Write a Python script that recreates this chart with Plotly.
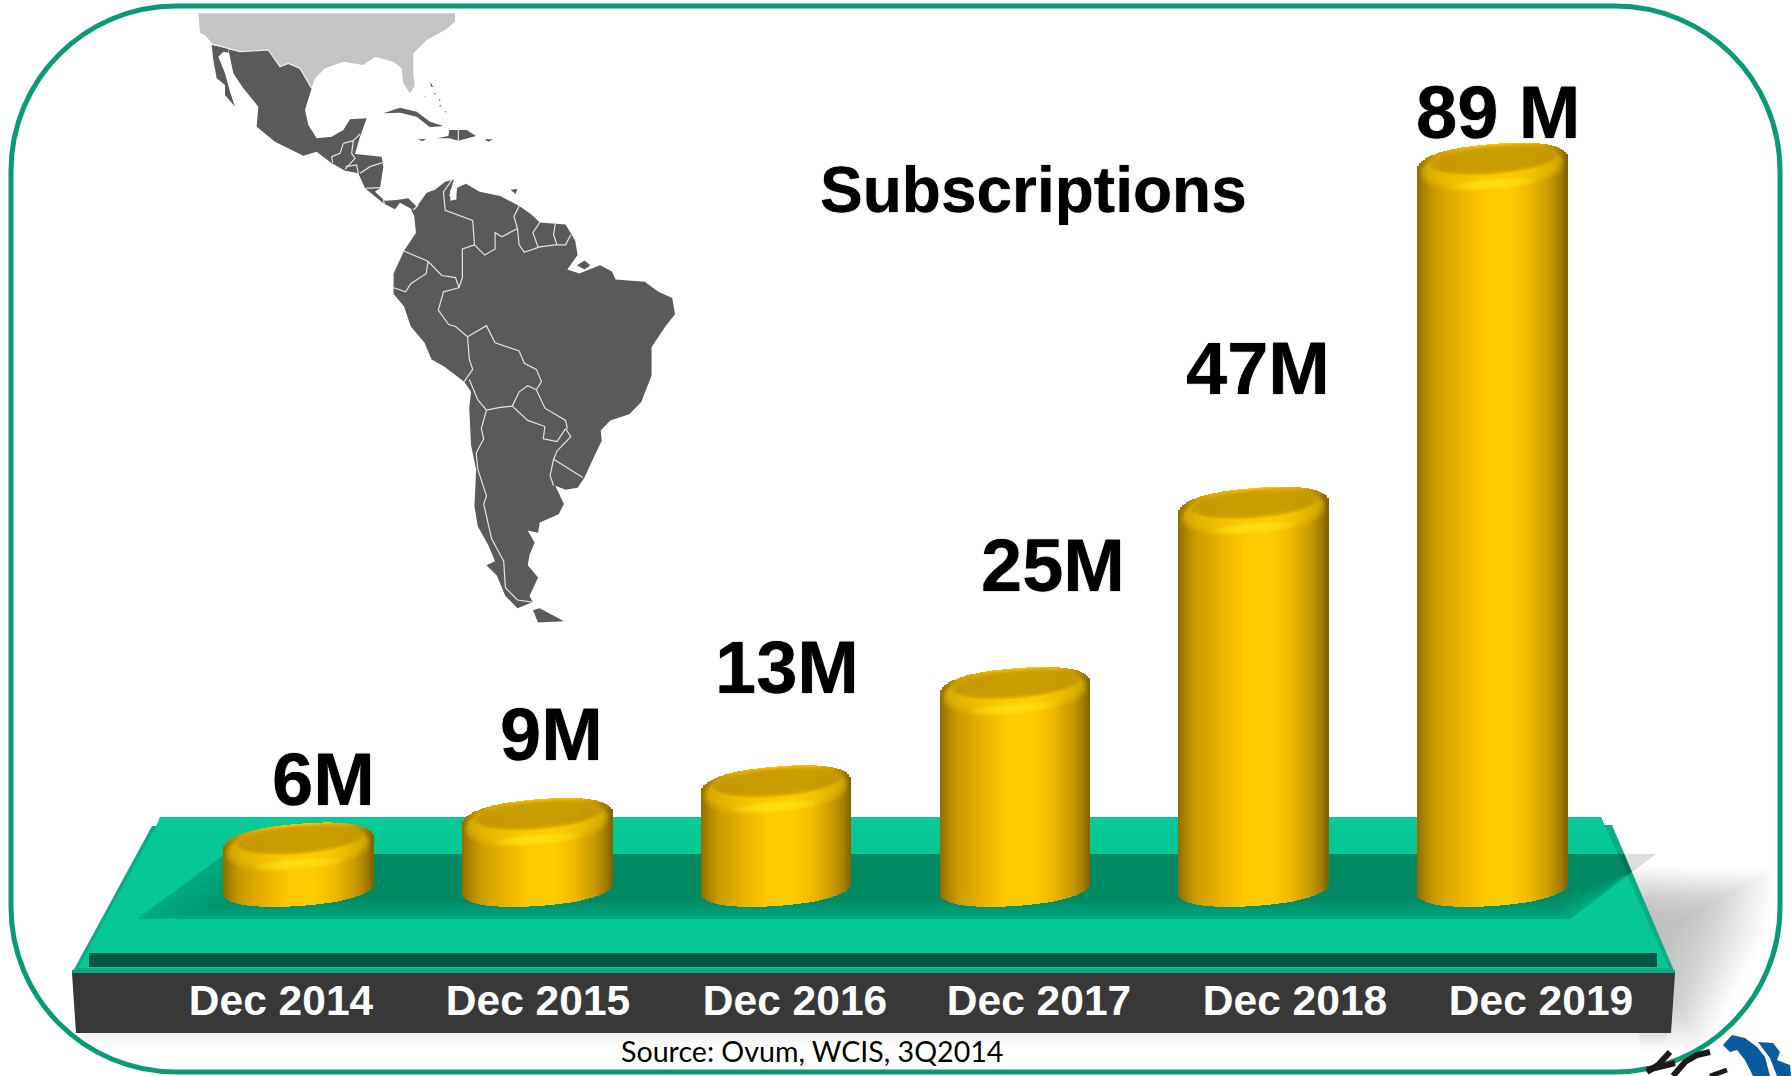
import math
import plotly.graph_objects as go

# ---- data ----
periods = ["Dec 2014", "Dec 2015", "Dec 2016", "Dec 2017", "Dec 2018", "Dec 2019"]
subscriptions_m = [6, 9, 13, 25, 47, 89]
value_labels = ["6M", "9M", "13M", "25M", "47M", "89 M"]
title_text = "Subscriptions"
source_text = "Source: Ovum, WCIS, 3Q2014"

# ---- layout constants (pixels of the 1791x1076 page) ----
W, H, PLOT_H = 1791, 1076, 973
X0, DX = 297.8, 238.9      # centre of first bar, bar spacing
Y0, DY = 872.0, 8.19       # pixel of value 0, pixels per M
BAR_W = 150.0
tick_px = [281, 538, 795, 1039, 1295, 1541]
label_dx = [26, 15, 11, 38, 5, 6]
label_dy = [-43, -64, -98, -102, -119, -31]
STRIPS = 75
stops = [(0, "#8d6e00"), (.04, "#a88000"), (.12, "#cb9c00"), (.28, "#e9b200"), (.45, "#ffc800"),
         (.60, "#ffcc00"), (.74, "#f2ba00"), (.88, "#c99b00"), (.96, "#a07c00"), (1, "#7d6200")]


def hexrgb(c):
    return tuple(int(c[i:i + 2], 16) for i in (1, 3, 5))


def grad(t):
    for (a, ca), (b, cb) in zip(stops, stops[1:]):
        if t <= b:
            f = (t - a) / (b - a)
            ra, rb = hexrgb(ca), hexrgb(cb)
            return "rgb(%d,%d,%d)" % tuple(round(p + (q - p) * f) for p, q in zip(ra, rb))
    return stops[-1][1]


def arc(t, p=2.4):
    return (1 - abs(t) ** p) ** (1 / p)


def xv(px):
    return (px - X0) / DX


def yv(px):
    return (Y0 - px) / DY


def px_path(points, close=True):
    s = "M" + " L".join(f"{x / W:.5f},{1 - y / PLOT_H:.5f}" for x, y in points)
    return s + (" Z" if close else "")


def poly(points, fill, opacity=1.0, layer="below"):
    return dict(type="path", xref="paper", yref="paper", path=px_path(points), fillcolor=fill,
                line=dict(width=0), opacity=opacity, layer=layer)


def polyline(points, color, width, layer="below"):
    return dict(type="path", xref="paper", yref="paper", path=px_path(points, False),
                line=dict(color=color, width=width), layer=layer)


fig = go.Figure()

# ---- cylinders: vertical strips, each from the lower to the upper rim ----
sw = BAR_W / STRIPS
for i in range(STRIPS):
    t0 = (i + .5) / STRIPS
    t = 2 * t0 - 1
    top_off = 22 - 6 * t - 21 * arc(t)
    bot_px = 888 - 5 * t + 18 * arc(t, 2.2)
    fig.add_trace(go.Bar(
        x=list(range(len(periods))),
        y=[v - top_off / DY - yv(bot_px) for v in subscriptions_m],
        base=yv(bot_px),
        width=(sw + .8) / DX,
        offset=(-BAR_W / 2 + i * sw) / DX,
        marker=dict(color=grad(t0), line=dict(width=0)),
        hoverinfo="skip", showlegend=False))

shapes = []

# ---- soft grey shadow to the right of the platform ----
for k in range(24):
    g = k * 4.0
    shapes.append(poly([(1625, 866 + g * .45), (1775 - g * .95, 870 + g * .5), (1768 - g * 1.1, 930 + g * .2),
                        (1705 - g * .45, 1050 - g * .7), (1640, 1050 - g * .7)], "#707070", .024))
# ---- shadow below the band ----
for k in range(4):
    shapes.append(poly([(80, 1033), (1668, 1033), (1664, 1047 - 3 * k), (84, 1047 - 3 * k)], "#000000", .012))

# ---- rounded frame ----
L, R, T, B, r = 11, 1780, 6, 1072, 165
c = r * .5523
frame = (f"M{(L + r) / W:.5f},{1 - T / PLOT_H:.5f} L{(R - r) / W:.5f},{1 - T / PLOT_H:.5f} "
         f"C{(R - r + c) / W:.5f},{1 - T / PLOT_H:.5f} {R / W:.5f},{1 - (T + r - c) / PLOT_H:.5f} {R / W:.5f},{1 - (T + r) / PLOT_H:.5f} "
         f"L{R / W:.5f},{1 - (B - r) / PLOT_H:.5f} "
         f"C{R / W:.5f},{1 - (B - r + c) / PLOT_H:.5f} {(R - r + c) / W:.5f},{1 - B / PLOT_H:.5f} {(R - r) / W:.5f},{1 - B / PLOT_H:.5f} "
         f"L{(L + r) / W:.5f},{1 - B / PLOT_H:.5f} "
         f"C{(L + r - c) / W:.5f},{1 - B / PLOT_H:.5f} {L / W:.5f},{1 - (B - r + c) / PLOT_H:.5f} {L / W:.5f},{1 - (B - r) / PLOT_H:.5f} "
         f"L{L / W:.5f},{1 - (T + r) / PLOT_H:.5f} "
         f"C{L / W:.5f},{1 - (T + r - c) / PLOT_H:.5f} {(L + r - c) / W:.5f},{1 - T / PLOT_H:.5f} {(L + r) / W:.5f},{1 - T / PLOT_H:.5f} Z")
shapes.append(dict(type="path", xref="paper", yref="paper", path=frame, layer="below",
                   line=dict(color="#0b9a78", width=5), fillcolor="rgba(0,0,0,0)"))

# ---- platform ----
shapes.append(poly([(160, 817), (1601, 817), (1604, 825), (1612, 825), (1675, 973), (72, 973), (152, 826), (157, 826)], "#0aab86"))
shapes.append(poly([(161, 817), (1601, 817), (1669, 968), (78, 968)], "#05c896"))
shapes.append(poly([(160, 817), (1601, 817), (1604, 826), (157, 826)], "#0bc89a"))
shapes.append(poly([(89, 953), (1657, 953), (1657, 967), (89, 967)], "#045843"))
shapes.append(poly([(72, 970), (1675, 970), (1675, 973), (72, 973)], "#0aa583"))
# shadow cast on the platform: grey beyond the edge, deeper on the green
shapes.append(poly([(225, 854), (1656, 854), (1570, 919), (137, 919)], "#000000", .13))
for k in range(10):
    d = 18 - 2 * k
    shapes.append(poly([(225 + d * 4, 854), (1624, 854), (1632, 872), (1570 - d, 919 - d), (137 + d * 7, 919 - d)], "#000000", .019))
# dark band
shapes.append(poly([(72, 973), (1675, 973), (1671, 1033), (76, 1033)], "#383838"))


# ---- map (traced outline, crop coordinates converted to page pixels) ----
def m(points):
    return [(170 + x / 2.907, y / 2.45) for x, y in points]


def n(points):
    return [(200 + x / 3, 10 + y / 3) for x, y in points]


MAP = "#5a5a5a"
usa = [(-5, 10), (765, 10), (765, 35), (735, 60), (680, 90), (640, 130), (640, 195), (645, 225), (630, 250), (610, 220),
       (605, 175), (580, 155), (525, 140), (490, 165), (430, 155), (375, 175), (345, 205), (335, 235), (300, 175),
       (265, 160), (240, 170), (205, 120), (120, 125), (35, 100), (15, 75), (0, 68)]
baja = [(35, 105), (85, 115), (85, 128), (70, 125), (55, 140), (75, 190), (90, 245), (105, 290), (75, 255), (75, 225), (50, 205), (40, 150)]
north_upper = [(85, 118), (120, 125), (205, 120), (240, 170), (265, 160), (300, 175), (335, 235), (315, 300), (325, 345), (350, 385),
               (395, 380), (430, 360), (450, 328), (500, 325), (480, 380), (465, 432), (545, 440), (550, 470), (540, 535),
               (525, 545), (555, 572), (590, 570), (625, 565), (650, 590), (680, 548)]
south_america = [(770, 465), (800, 445), (825, 440), (812, 480), (830, 490), (835, 460), (860, 450), (900, 470), (960, 480),
                  (1015, 505), (1050, 525), (1075, 545), (1150, 550), (1178, 590), (1185, 625), (1155, 660), (1190, 670),
                  (1250, 650), (1285, 665), (1295, 685), (1380, 690), (1420, 715), (1460, 730), (1468, 770), (1440, 800),
                  (1400, 850), (1400, 920), (1370, 985), (1335, 1015), (1280, 1030), (1252, 1055), (1255, 1080), (1235, 1115),
                  (1205, 1170), (1185, 1195), (1150, 1200), (1120, 1190), (1145, 1235), (1130, 1260), (1075, 1280), (1070, 1305),
                  (1040, 1300), (1060, 1330), (1045, 1360), (1040, 1385), (1070, 1415), (1045, 1460), (1055, 1475), (1010, 1490),
                  (975, 1460), (950, 1410), (920, 1385), (945, 1375), (925, 1335), (895, 1290), (885, 1240), (890, 1150),
                  (875, 1090), (870, 1000), (875, 960), (855, 935), (800, 900), (760, 880), (740, 840), (700, 800), (680, 750),
                  (650, 720), (650, 670), (680, 615), (715, 570), (710, 530), (700, 512)]
north_lower = [(640, 600), (600, 578), (585, 598), (550, 580), (495, 535), (475, 490), (435, 482), (395, 460), (350, 425), (310, 437),
               (225, 395), (170, 350), (175, 290), (130, 235), (100, 190)]
islands_n = [
    [(550, 310), (600, 293), (650, 305), (690, 335), (730, 348), (690, 352), (650, 320), (600, 308)],
    [(748, 360), (800, 360), (828, 378), (775, 392), (748, 385), (712, 385), (745, 378)],
    [(655, 387), (680, 388), (665, 394)],
    [(853, 388), (880, 388), (865, 395)],
    [(690, 215), (700, 232), (693, 230)],
    [(702, 249), (708, 251), (704, 254)],
    [(716, 267), (722, 269), (718, 272)],
    [(718, 285), (725, 287), (720, 290)],
    [(734, 303), (739, 305), (736, 308)],
    [(673, 259), (677, 260), (675, 263)],
]
islands_m = [
    [(990, 465), (1010, 463), (1005, 475)],
    [(1183, 650), (1205, 638), (1222, 650), (1205, 660)],
    [(1055, 1495), (1075, 1490), (1145, 1522), (1070, 1525)],
]
borders_n = [
    [(430, 400), (420, 430), (395, 440), (398, 458)],
    [(430, 400), (460, 392), (455, 430), (465, 445), (435, 478)],
    [(460, 392), (480, 372)],
    [(437, 470), (470, 465), (475, 490)],
    [(480, 490), (510, 470), (548, 458)],
    [(497, 535), (540, 533)],
    [(550, 565), (553, 585)],
    [(640, 600), (655, 585)],
    [(775, 360), (775, 392)],
]
borders_m = [
    [(820, 440), (795, 470), (800, 515), (880, 540), (885, 600)],
    [(885, 600), (850, 610), (850, 680), (840, 705)],
    [(885, 600), (915, 625), (945, 610), (945, 570), (965, 580), (1010, 560), (1000, 530), (1015, 505)],
    [(1010, 560), (1015, 600), (1030, 618), (1075, 605), (1120, 600), (1150, 600), (1165, 575)],
    [(1075, 545), (1055, 570), (1070, 605)],
    [(1120, 548), (1115, 575), (1125, 600)],
    [(680, 615), (750, 640), (790, 675), (830, 680), (840, 705)],
    [(750, 640), (745, 670), (700, 695), (685, 715), (650, 705)],
    [(840, 705), (795, 715), (780, 760), (810, 795), (830, 800), (865, 825)],
    [(865, 825), (870, 880), (880, 905), (855, 935)],
    [(865, 825), (920, 798), (945, 840), (1015, 860), (1030, 890), (1065, 905), (1080, 935), (1065, 955)],
    [(1065, 955), (1040, 945), (1015, 960), (995, 995)],
    [(870, 930), (895, 980), (920, 1005)],
    [(920, 1005), (960, 998), (995, 995)],
    [(995, 995), (1040, 1030), (1090, 1045), (1085, 1075), (1125, 1082), (1150, 1050)],
    [(1065, 955), (1090, 1000), (1150, 1030), (1155, 1050)],
    [(1150, 1050), (1165, 1070), (1125, 1105), (1115, 1125)],
    [(1115, 1125), (1105, 1165), (1115, 1190)],
    [(1115, 1125), (1200, 1170)],
    [(920, 1005), (905, 1050), (912, 1075), (890, 1110), (895, 1150), (920, 1215), (912, 1235), (935, 1320),
     (970, 1375), (975, 1440), (1010, 1470), (1055, 1475)],
]
shapes.append(poly(n(usa), "#c4c4c4"))
shapes.append(poly(n(baja), MAP))
shapes.append(poly(n(north_upper) + m(south_america) + n(north_lower), MAP))
for isl in islands_n:
    shapes.append(poly(n(isl), MAP))
for isl in islands_m:
    shapes.append(poly(m(isl), MAP))
for b in borders_n:
    shapes.append(polyline(n(b), "#e4e4e4", 1.2))
for b in borders_m:
    shapes.append(polyline(m(b), "#e4e4e4", 1.2))
shapes.append(polyline(n([(35, 102), (120, 125), (205, 120), (240, 170), (265, 160), (300, 175), (335, 235)]), "#eeeeee", 1.2))
# lake Maracaibo
shapes.append(poly(m([(815, 465), (832, 462), (833, 488), (815, 492)]), "#ffffff"))

# ---- logo corner ----
shapes.append(poly([(1723, 1045), (1732, 1035), (1745, 1038), (1757, 1047), (1765, 1057), (1770, 1076), (1753, 1076), (1745, 1060), (1737, 1050), (1730, 1052)], "#0a5aa0", layer="above"))
shapes.append(poly([(1758, 1042), (1773, 1043), (1780, 1052), (1777, 1060), (1790, 1065), (1791, 1076), (1777, 1076), (1770, 1058)], "#0a5aa0", layer="above"))
shapes.append(polyline([(1647, 1072), (1658, 1065), (1670, 1052)], "#1a1a1a", 6, "above"))
shapes.append(polyline([(1647, 1070), (1675, 1063)], "#1a1a1a", 6, "above"))
shapes.append(polyline([(1673, 1076), (1685, 1062), (1697, 1055), (1710, 1052)], "#1a1a1a", 6, "above"))
shapes.append(polyline([(1710, 1076), (1727, 1070)], "#1a1a1a", 5, "above"))


# ---- cylinder caps, built from each value through the data axes ----
def ell_path(cx_i, v, u, off, a, b, tilt=-0.08, count=48, p=2.0):
    xc = cx_i + u / DX
    pts = []
    for j in range(count):
        th = 2 * math.pi * j / count
        cs, sn = math.cos(th), math.sin(th)
        ex = a * abs(cs) ** (2 / p) * (1 if cs >= 0 else -1)
        ey = b * abs(sn) ** (2 / p) * (1 if sn >= 0 else -1)
        pts.append((xc + ex / DX, v - (off + ey + tilt * ex) / DY))
    return "M" + " L".join(f"{x:.4f},{y:.4f}" for x, y in pts) + " Z"


def cap(i, v):
    out = []

    def add(path, color, op):
        out.append(dict(type="path", xref="x", yref="y", path=path, fillcolor=color, opacity=op,
                        line=dict(width=0), layer="above"))
    # rim: brighter band around the cap, fading softly
    for k in range(7):
        add(ell_path(i, v, 0, 25.5 - k * .4, 73 - k, 23 - k * 1.0, p=2.2), "#ffcf00", .09)
    # highlight below the front rim
    for k in range(8):
        add(ell_path(i, v, 0, 41, 44 - 5.2 * k, 6 - .6 * k), "#ffe81a", .17)
    # inner dark top, soft edge
    for k in range(5):
        add(ell_path(i, v, 2, 16.5, 65 - 1.5 * k, 15 - 1.1 * k), "#bf9500", .3)
    return out


for i, v in enumerate(subscriptions_m):
    shapes.extend(cap(i, v))

# ---- texts ----
heavy = "0 0 1px #000000"
annotations = [
    dict(x=i, y=v, xref="x", yref="y", text=value_labels[i], showarrow=False, xanchor="center", yanchor="middle",
         xshift=label_dx[i], yshift=-label_dy[i],
         font=dict(family="Liberation Sans", size=74, color="#000000", weight=700, shadow=heavy))
    for i, v in enumerate(subscriptions_m)
]
annotations.append(dict(x=1033 / W, y=1 - 190 / PLOT_H, xref="paper", yref="paper", text=title_text, showarrow=False,
                        xanchor="center", yanchor="middle",
                        font=dict(family="Liberation Sans", size=64, color="#000000", weight=700, shadow=heavy)))
annotations.append(dict(x=812 / W, y=1 - 1051 / PLOT_H, xref="paper", yref="paper", text=source_text, showarrow=False,
                        xanchor="center", yanchor="middle",
                        font=dict(family="Lato", size=28.6, color="#000000")))

fig.update_layout(
    width=W, height=H, margin=dict(l=0, r=0, t=0, b=H - PLOT_H, autoexpand=False),
    paper_bgcolor="#ffffff", plot_bgcolor="rgba(0,0,0,0)", barmode="overlay", bargap=0,
    showlegend=False, shapes=shapes, annotations=annotations,
    xaxis=dict(range=[xv(0), xv(W)], tickmode="array", tickvals=[xv(p) for p in tick_px], ticktext=periods,
               showgrid=False, zeroline=False, showline=False, ticks="", ticklabelstandoff=-2,
               tickfont=dict(family="Liberation Sans", size=42.5, color="#ffffff", weight=700)),
    yaxis=dict(range=[yv(PLOT_H), yv(0)], visible=False),
)
fig.write_html("out.html", config=dict(displayModeBar=False),
               post_script="document.body.style.margin='0';document.body.style.overflow='hidden';")
